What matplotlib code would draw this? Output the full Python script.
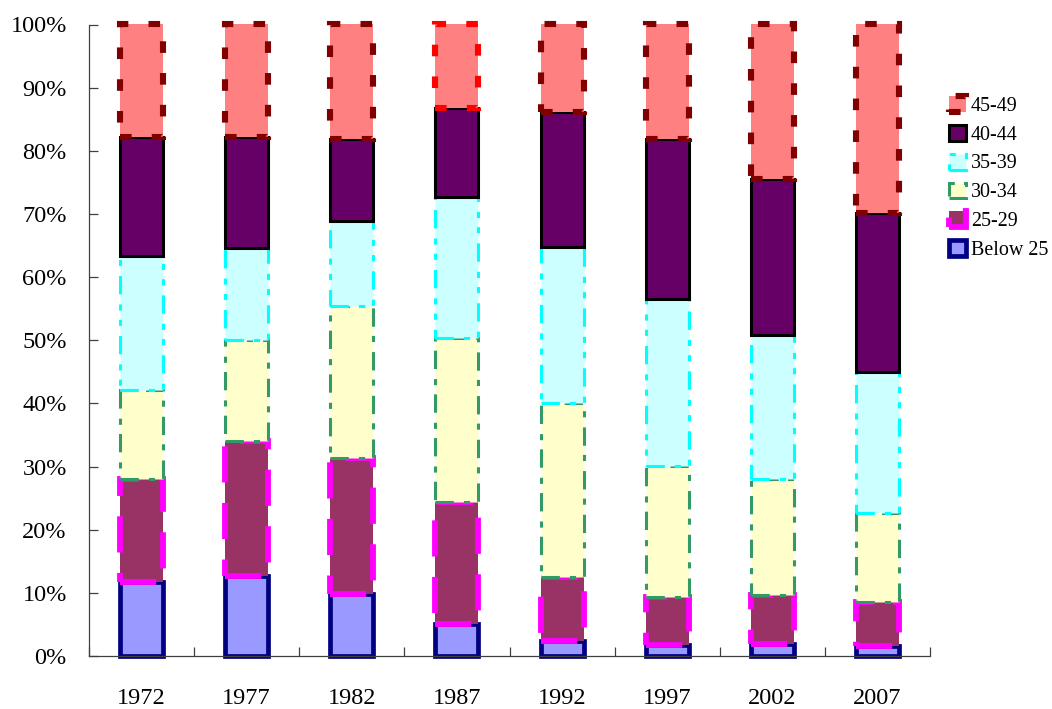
import matplotlib
matplotlib.use("Agg")
import matplotlib.pyplot as plt
from matplotlib.patches import Rectangle
import numpy as np

plt.rcParams['font.family'] = ['Liberation Serif', 'DejaVu Serif']

# Survey years and age-group shares (percent of total)
years = ['1972', '1977', '1982', '1987', '1992', '1997', '2002', '2007']
groups = ['Below 25', '25-29', '30-34', '35-39', '40-44', '45-49']

below_25 = [11.7, 12.7, 9.8, 5.1, 2.3, 1.7, 1.9, 1.6]
age_25_29 = [16.3, 21.4, 21.5, 19.3, 10.2, 7.6, 7.8, 7.0]
age_30_34 = [14.1, 16.0, 24.2, 26.0, 27.5, 20.8, 18.3, 14.1]
age_35_39 = [21.2, 14.5, 13.4, 22.3, 24.7, 26.5, 22.9, 22.2]
age_40_44 = [18.9, 17.6, 13.0, 14.1, 21.4, 25.3, 24.7, 25.3]
age_45_49 = [17.8, 17.8, 18.1, 13.2, 13.9, 18.1, 24.4, 29.8]

series = [below_25, age_25_29, age_30_34, age_35_39, age_40_44, age_45_49]

# Fill / border styling per age group (dash patterns in units of line width)
styles = [
    dict(facecolor='#9999FF', edgecolor='#000080', linewidth=3.4, linestyle='-'),
    dict(facecolor='#993366', edgecolor='#FF00FF', linewidth=4.2,
         linestyle=(0, (6.2, 3.5))),
    dict(facecolor='#FFFFCC', edgecolor='#339966', linewidth=2.2,
         linestyle=(0, (6.0, 3.3, 2.0, 3.0))),
    dict(facecolor='#CCFFFF', edgecolor='#00FFFF', linewidth=2.2,
         linestyle=(0, (6.0, 3.3, 2.0, 3.0, 2.0, 3.3))),
    dict(facecolor='#660066', edgecolor='#000000', linewidth=2.2, linestyle='-'),
    dict(facecolor='#FF8080', edgecolor='#800000', linewidth=4.4,
         linestyle=(0, (1.9, 3.3))),
]

data = np.array(series, dtype=float)
shares = data / data.sum(axis=0) * 100.0

fig = plt.figure(figsize=(10.52, 7.09), dpi=100)
ax = fig.add_axes([89 / 1052, 1 - 656 / 709, (930 - 89) / 1052, (656 - 24.5) / 709])

x = np.arange(len(years))
bar_w = 0.41
bottom = np.zeros(len(years))
containers = []
for vals, st in zip(shares, styles):
    bc = ax.bar(x, vals, bar_w, bottom=bottom, clip_on=False, **st)
    containers.append(bc)
    bottom += vals

# 1987 top segment carries a bright red border
containers[5][3].set_edgecolor('#FF0000')

ax.set_xlim(-0.5, len(years) - 0.5)
ax.set_ylim(0, 100)

ax.set_yticks(np.arange(0, 101, 10))
ax.set_yticklabels([f'{v}%' for v in range(0, 101, 10)])
ax.set_xticks(x)
ax.set_xticklabels(years)
ax.set_xticks(np.arange(-0.5, len(years), 1.0), minor=True)

spine_col = '#404040'
for side in ['top', 'right']:
    ax.spines[side].set_visible(False)
for side in ['left', 'bottom']:
    ax.spines[side].set_color(spine_col)
    ax.spines[side].set_linewidth(0.9)

ax.tick_params(axis='y', direction='in', length=6.5, width=0.9, color=spine_col,
               labelsize=17.5, pad=16)
ax.tick_params(axis='x', which='major', length=0, labelsize=17.5, pad=23)
ax.tick_params(axis='x', which='minor', direction='in', length=6.5, width=0.9,
               color=spine_col)

handles = [Rectangle((0, 0), 1, 1, **st) for st in styles][::-1]
labels = groups[::-1]
fig.legend(handles, labels, loc='center left',
           bbox_to_anchor=(949 / 1052, 1 - 178 / 709),
           frameon=False, fontsize=14.4, borderpad=0, handlelength=0.85,
           handleheight=0.85, handletextpad=0.25, labelspacing=0.45,
           borderaxespad=0)

fig.savefig('out.png', dpi=100)
